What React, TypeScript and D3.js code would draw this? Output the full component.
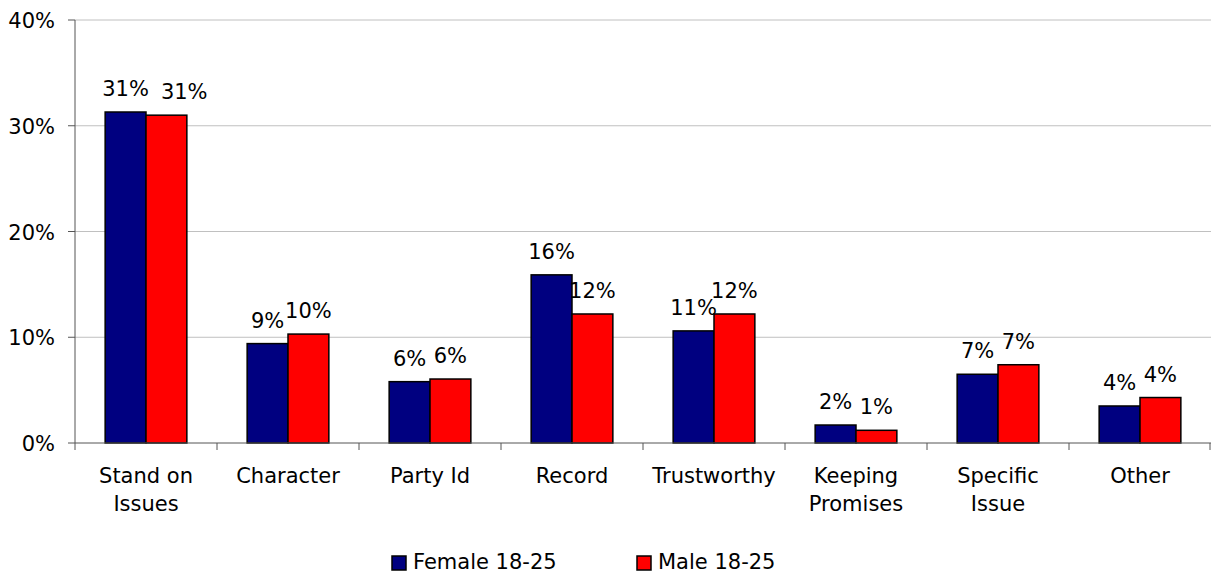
import React from "react";
import * as d3 from "d3";

const categories: string[][] = [
  ["Stand on", "Issues"],
  ["Character"],
  ["Party Id"],
  ["Record"],
  ["Trustworthy"],
  ["Keeping", "Promises"],
  ["Specific", "Issue"],
  ["Other"],
];
const seriesNames = ["Female 18-25", "Male 18-25"];
const female = [0.313, 0.094, 0.058, 0.159, 0.106, 0.017, 0.065, 0.035];
const male = [0.310, 0.103, 0.0605, 0.122, 0.122, 0.012, 0.074, 0.043];
const yTicks = [0, 0.1, 0.2, 0.3, 0.4];
const colors = ["#000080", "#ff0000"];

const W = 1212;
const H = 573;
const left = 75;
const right = 1211;
const top = 20;
const bottom = 443;
const FONT = "'DejaVu Sans', Verdana, sans-serif";
const FS = 21;

function textWidth(s: string) {
  let w = 0;
  for (const c of s) w += c === "%" ? 0.95 : 0.636;
  return w * FS;
}

export default function App() {
  const keys = categories.map((c) => c.join(" "));
  const x0 = d3.scaleBand<string>().domain(keys).range([left, right]).padding(0);
  const x1 = d3
    .scaleBand<string>()
    .domain(seriesNames)
    .range([0, x0.bandwidth()])
    .paddingInner(0)
    .paddingOuter(0.738);
  const y = d3.scaleLinear().domain([0, 0.4]).range([bottom, top]);
  const fmt = d3.format(".0%");
  const data = [female, male];

  return (
    <svg
      width={W}
      height={H}
      style={{ position: "absolute", left: 0, top: 0, background: "#fff" }}
      fontFamily={FONT}
    >
      {yTicks.map((t) => (
        <g key={t}>
          {t > 0 && (
            <line x1={left} x2={right} y1={y(t)} y2={y(t)} stroke="#c0c0c0" strokeWidth={1} />
          )}
          <line x1={left - 7} x2={left} y1={y(t)} y2={y(t)} stroke="#555" strokeWidth={1} />
          <text x={55} y={y(t) + 8} textAnchor="end" fontSize={FS} fill="#000">
            {fmt(t)}
          </text>
        </g>
      ))}
      {keys.map((k, i) => {
        const bw = x1.bandwidth();
        const pos = seriesNames.map((s, si) => {
          const v = data[si][i];
          const bx = (x0(k) as number) + (x1(s) as number);
          return { v, bx, cx: bx + bw / 2, ly: y(v) - 16, label: fmt(v) };
        });
        // avoid label collision (shift second label right as the original does)
        const a = pos[0];
        const b = pos[1];
        const half = (textWidth(a.label) + textWidth(b.label)) / 2;
        if (Math.abs(a.ly - b.ly) < 10 && b.cx - a.cx < half) {
          b.cx = a.cx + half + 12;
        }
        return (
          <g key={k}>
            {pos.map((p, si) => (
              <g key={si}>
                <rect
                  x={p.bx}
                  y={y(p.v)}
                  width={bw}
                  height={bottom - y(p.v)}
                  fill={colors[si]}
                  stroke="#000"
                  strokeWidth={1.5}
                />
                <text x={p.cx} y={p.ly} textAnchor="middle" fontSize={FS} fill="#000">
                  {p.label}
                </text>
              </g>
            ))}
            {categories[i].map((line, li) => (
              <text
                key={li}
                x={(x0(k) as number) + x0.bandwidth() / 2}
                y={483 + li * 28}
                textAnchor="middle"
                fontSize={FS}
                fill="#000"
              >
                {line}
              </text>
            ))}
          </g>
        );
      })}
      {keys.map((k) => (
        <line key={"t" + k} x1={x0(k)} x2={x0(k)} y1={bottom} y2={bottom + 7} stroke="#555" />
      ))}
      <line x1={right - 1} x2={right - 1} y1={bottom} y2={bottom + 7} stroke="#555" />
      <line x1={left} x2={left} y1={top} y2={bottom} stroke="#555" strokeWidth={1} />
      <line x1={left} x2={right} y1={bottom} y2={bottom} stroke="#555" strokeWidth={1} />
      {seriesNames.map((s, si) => {
        const lx = [392, 637][si];
        return (
          <g key={s}>
            <rect x={lx} y={556} width={14} height={14} fill={colors[si]} stroke="#000" strokeWidth={1.5} />
            <text x={lx + 21} y={569} fontSize={FS} fill="#000">
              {s}
            </text>
          </g>
        );
      })}
    </svg>
  );
}
